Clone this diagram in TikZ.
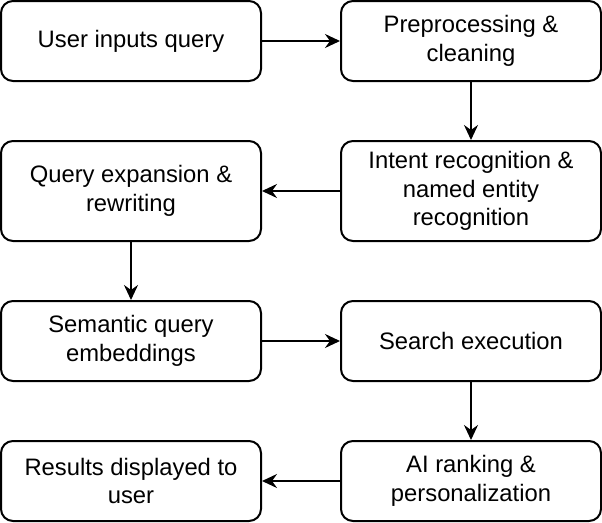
\documentclass[tikz,border=0pt]{standalone}
\usepackage{fontspec}
\setmainfont{Liberation Sans}
\usetikzlibrary{arrows.meta}
\begin{document}
\begin{tikzpicture}[x=1pt,y=-1pt,
  box/.style={draw=black,line width=2pt,rounded corners=12pt,fill=white,
    minimum width=260pt,align=center,inner sep=2pt,
    font=\fontsize{23.8}{28.5}\selectfont},
  shortbox/.style={box,minimum height=80pt},
  tallbox/.style={box,minimum height=100pt},
  arr/.style={line width=2pt,-{Stealth[length=15pt,width=14pt,inset=5pt]}}]
\useasboundingbox (0,0) rectangle (602,522);
\node[shortbox] (a) at (131,41) {User inputs query};
\node[shortbox] (b) at (471,41) {Preprocessing \&\\cleaning};
\node[tallbox] (c) at (471,191) {Intent recognition \&\\named entity\\recognition};
\node[tallbox] (d) at (131,191) {Query expansion \&\\rewriting};
\node[shortbox] (e) at (131,341) {Semantic query\\embeddings};
\node[shortbox] (f) at (471,341) {Search execution};
\node[shortbox] (g) at (471,481) {AI ranking \&\\personalization};
\node[shortbox] (h) at (131,481) {Results displayed to\\user};
\draw[arr] (a) -- (b);
\draw[arr] (b) -- (c);
\draw[arr] (c) -- (d);
\draw[arr] (d) -- (e);
\draw[arr] (e) -- (f);
\draw[arr] (f) -- (g);
\draw[arr] (g) -- (h);
\end{tikzpicture}
\end{document}
